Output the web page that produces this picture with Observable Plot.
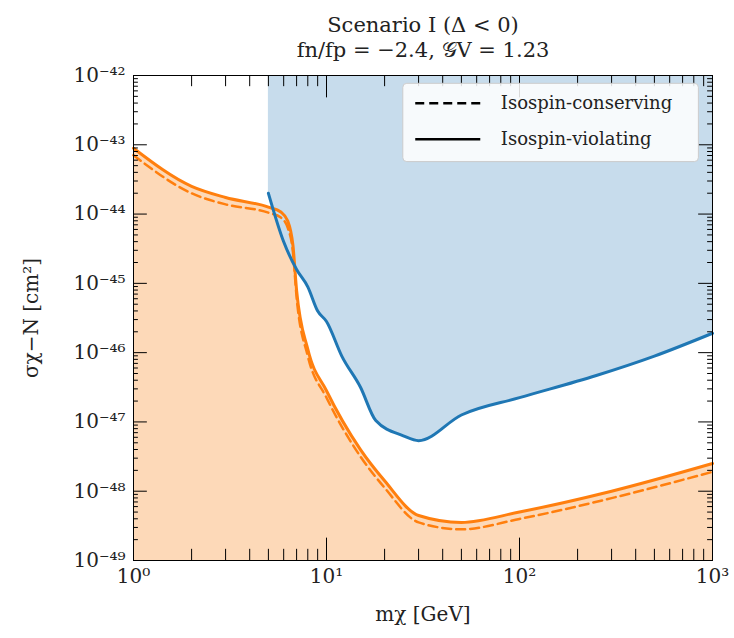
<!DOCTYPE html>
<html><head>
<script src="https://cdn.jsdelivr.net/npm/d3@7"></script>
<script src="https://cdn.jsdelivr.net/npm/@observablehq/plot@0.6"></script>
<style>body{margin:0;background:#fff}</style>
</head><body><div id="chart"></div>
<script>
// masses in GeV, cross sections as log10(cm^2)
const massSolid = [1, 2, 3, 5, 5.8, 6.3, 6.7, 7, 8, 10, 15, 20, 30, 50, 100, 300, 1000];
const logSolid = [-43.05, -43.6, -43.76, -43.9, -43.97, -44.1, -44.45, -45.1, -45.95, -46.55, -47.4, -47.85, -48.35, -48.45, -48.3, -48.0, -47.6];
const logDashed = [-43.15, -43.7, -43.86, -43.98, -44.05, -44.2, -44.55, -45.2, -46.05, -46.65, -47.5, -47.95, -48.45, -48.55, -48.4, -48.1, -47.72];
const massBlue = [5, 6, 7, 8, 9, 10, 12, 15, 18, 25, 30, 50, 100, 250, 500, 1000];
const logBlue = [-43.7, -44.4, -44.8, -45.05, -45.4, -45.55, -46.05, -46.5, -46.98, -47.2, -47.27, -46.9, -46.65, -46.33, -46.05, -45.72];
const sup = {"-":"⁻","0":"⁰","1":"¹","2":"²","3":"³","4":"⁴","5":"⁵","6":"⁶","7":"⁷","8":"⁸","9":"⁹"};
const pow = e => "10" + String(e).split("").map(c => sup[c]).join("");

const solid = massSolid.map((m, i) => ({m, s: 10 ** logSolid[i]}));
const dashed = massSolid.map((m, i) => ({m, s: 10 ** logDashed[i]}));
const blue = massBlue.map((m, i) => ({m, s: 10 ** logBlue[i]}));

const yMajor = d3.range(-49, -41).map(e => 10 ** e);
const xMajor = [1, 10, 100, 1000];
const xMinor = [], yMinor = [];
for (const d of [1, 10, 100]) for (let k = 2; k < 10; k++) xMinor.push(d * k);
for (let e = -49; e < -42; e++) for (let k = 2; k < 10; k++) yMinor.push(k * 10 ** e);
const g = 1.06, gy = 1.45;
const serif = "DejaVu Serif";

const chart = Plot.plot({
  width: 734, height: 638,
  marginLeft: 133, marginRight: 22, marginTop: 75, marginBottom: 78,
  style: {fontFamily: serif, fontSize: "20px", color: "#222"},
  x: {type: "log", domain: [1, 1000], ticks: xMajor, tickFormat: d => pow(Math.round(Math.log10(d))), tickSize: 0, tickPadding: 8, label: "mχ [GeV]", labelArrow: false, labelAnchor: "center", labelOffset: 60},
  y: {type: "log", domain: [1e-49, 1e-42], ticks: yMajor, tickFormat: d => pow(Math.round(Math.log10(d))), tickSize: 0, tickPadding: 8, label: "σχ−N [cm²]", labelArrow: false, labelAnchor: "center", labelOffset: 110},
  marks: [
    Plot.areaY(solid, {x: "m", y1: 1e-49, y2: "s", fill: "#fdd9b8", curve: "monotone-x"}),
    Plot.areaY(blue, {x: "m", y1: "s", y2: 1e-42, fill: "#c7dcec", curve: "monotone-x"}),
    Plot.line(dashed, {x: "m", y: "s", stroke: "#ff7f0e", strokeWidth: 2.5, strokeDasharray: "9,5", curve: "monotone-x"}),
    Plot.line(solid, {x: "m", y: "s", stroke: "#ff7f0e", strokeWidth: 3, curve: "monotone-x"}),
    Plot.line(blue, {x: "m", y: "s", stroke: "#1f77b4", strokeWidth: 3, curve: "monotone-x"}),
    // inward ticks
    Plot.ruleX(xMajor, {y1: 1e-49, y2: 1e-49 * gy * gy, stroke: "#000"}),
    Plot.ruleX(xMajor, {y1: 1e-42, y2: 1e-42 / gy / gy, stroke: "#000"}),
    Plot.ruleX(xMinor, {y1: 1e-49, y2: 1e-49 * gy, stroke: "#000"}),
    Plot.ruleX(xMinor, {y1: 1e-42, y2: 1e-42 / gy, stroke: "#000"}),
    Plot.ruleY(yMajor, {x1: 1, x2: g * g * 1.05, stroke: "#000"}),
    Plot.ruleY(yMajor, {x1: 1000, x2: 1000 / (g * g * 1.05), stroke: "#000"}),
    Plot.ruleY(yMinor, {x1: 1, x2: g, stroke: "#000"}),
    Plot.ruleY(yMinor, {x1: 1000, x2: 1000 / g, stroke: "#000"}),
    Plot.frame({stroke: "#000"}),
    // legend
    Plot.rect([0], {x1: 25, x2: 850, y1: 10 ** -43.25, y2: 10 ** -42.12, fill: "white", fillOpacity: 0.85, stroke: "#ccc", rx: 4}),
    Plot.ruleY([10 ** -42.4], {x1: 29, x2: 63, stroke: "#000", strokeWidth: 2.5, strokeDasharray: "9,5"}),
    Plot.ruleY([10 ** -42.92], {x1: 29, x2: 63, stroke: "#000", strokeWidth: 2.5}),
    Plot.text(["Isospin-conserving"], {x: 80, y: 10 ** -42.4, textAnchor: "start", fontSize: 18}),
    Plot.text(["Isospin-violating"], {x: 80, y: 10 ** -42.92, textAnchor: "start", fontSize: 18}),
    // title
    Plot.text(["Scenario I (Δ < 0)"], {frameAnchor: "top", dy: -58, fontSize: 21}),
    Plot.text(["fn/fp = −2.4, 𝒢V = 1.23"], {frameAnchor: "top", dy: -33, fontSize: 21})
  ]
});
document.getElementById("chart").append(chart);
</script>
</body></html>
